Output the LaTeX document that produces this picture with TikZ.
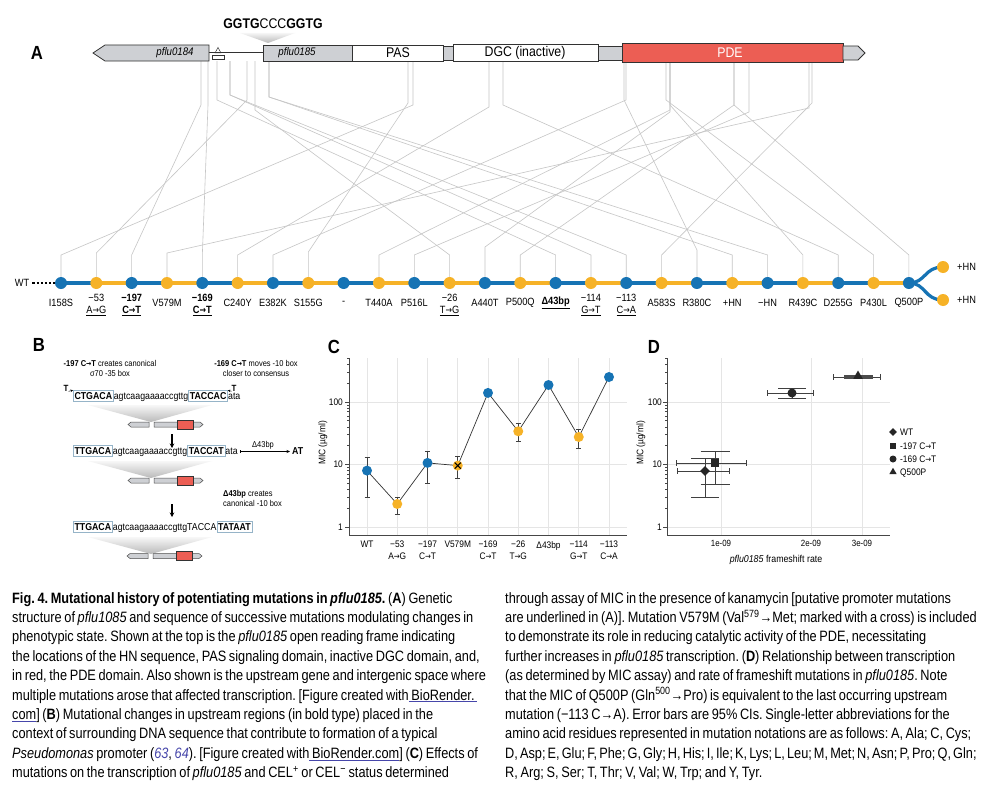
\documentclass[tikz,border=0pt]{standalone}
\usepackage{fontspec}
\setmainfont{Liberation Sans}[FakeStretch=0.88]
\newfontfamily\capfont{Liberation Sans}[FakeStretch=0.85,WordSpace=0.75]
\newfontfamily\arrowfont{DejaVu Sans}[FakeStretch=0.8,Scale=0.92]
\usetikzlibrary{shapes.geometric,arrows.meta,backgrounds}
\definecolor{mblue}{RGB}{22,115,180}
\definecolor{morange}{RGB}{246,178,39}
\definecolor{pdered}{RGB}{236,94,84}
\definecolor{genegray}{RGB}{206,208,212}
\definecolor{edgec}{RGB}{50,50,50}
\definecolor{linkc}{RGB}{70,70,170}
\definecolor{boxc}{RGB}{150,180,200}
\newcommand\fs[2]{\fontsize{#1}{#2}\selectfont}
\newcommand\lnk[1]{{\color{linkc}\underline{\color{black}#1}}}
\newcommand\rf[1]{{\color{linkc}\textit{#1}}}
\newcommand\ra{{\arrowfont →}}
\newcommand\tightsp{\spaceskip=2.1pt plus 0.5pt\relax}
\tikzset{
  panel/.style={font=\fs{19}{20}\bfseries, inner sep=0},
  genebox/.style={fill=genegray, draw=edgec, line width=0.8},
  whitebox/.style={fill=white, draw=edgec, line width=0.8},
  conn/.style={draw=gray!45, line width=0.6},
  seg/.style={line width=3.2},
  dot/.style={circle, minimum size=12, inner sep=0},
  lab/.style={font=\fs{10.5}{12}, align=center, inner sep=0},
  seq/.style={font=\fs{10}{12}, inner sep=0, anchor=base west},
  sbox/.style={seq, draw=boxc, line width=0.6, inner xsep=1.2, inner ysep=2},
  note/.style={font=\fs{8.5}{10}, align=center, inner sep=0},
  grid/.style={draw=gray!20, line width=0.6},
  axis/.style={draw=gray!55!black, line width=1},
  ebar/.style={draw=black!75, line width=0.9},
  cdot/.style={circle, minimum size=10, inner sep=0},
  tick/.style={font=\fs{9.5}{11}, inner sep=0},
  capline/.style={anchor=base west, inner sep=0, font=\capfont\fs{15}{18}\frenchspacing},
  dnarrow/.style={-{Stealth[length=4.5,width=4.5]}, line width=1.4},
}
\newcommand\geneicon[2]{%
  \begin{scope}[shift={(#1,#2)}]
    \filldraw[fill=genegray, draw=gray!60!black, line width=0.5] (-23,0) -- (-20,-2.5) -- (-2,-2.5) -- (-2,2.5) -- (-20,2.5) -- cycle;
    \filldraw[fill=genegray, draw=gray!60!black, line width=0.5] (3,-2.5) -- (49,-2.5) -- (52,0) -- (49,2.5) -- (3,2.5) -- cycle;
    \filldraw[fill=pdered, draw=gray!40!black, line width=0.5] (26,-4.5) rectangle (42,4.5);
  \end{scope}}
\begin{document}
\begin{tikzpicture}[x=1pt,y=-1pt]
\useasboundingbox (0,0) rectangle (1000,800);
\begin{pgfonlayer}{background}
\fill[white] (0,0) rectangle (1000,800);
\end{pgfonlayer}

%================ PANEL A =================
\node[panel] (labA) at (37,53) {A};
\node[inner sep=0] (hn) at (273,24) {\fs{14}{16}\textbf{GGTG}CCC\textbf{GGTG}};
\shade[top color=gray!8, bottom color=gray!55] (240,33) -- (295,33) -- (268,43) -- cycle;

% mutation dots
\foreach \i in {0,...,24}{
  \pgfmathsetmacro\xx{61+35.33*\i}
  \ifodd\i \def\cc{morange}\else \def\cc{mblue}\fi
  \node[dot, fill=\cc] (d\i) at (\xx,283) {};
}
\node[dot, fill=morange] (d25) at (943,267) {};
\node[dot, fill=morange] (d26) at (943,300) {};

\begin{pgfonlayer}{background}
\foreach \i/\g/\t/\b in {0/413/105/255, 1/247/100/253, 2/201/105/255, 3/809/108/253,
  4/208/105/255, 5/489/107/255, 6/626/100/255, 7/408/103/252, 9/670/110/255,
  10/749/112/255, 11/255/110/255, 12/670/112/247, 13/734/105/255, 14/217/100/255,
  15/230/95/255, 16/230/95/255, 17/812/103/255, 18/624/100/250, 19/269/97/255,
  20/269/97/255, 21/670/105/255, 22/503/105/255, 23/666/100/255, 24/734/105/255}{
  \coordinate (gp\i) at (\g,61);
  \draw[conn] (d\i.center) -- (d\i.center |- 0,\b) -- (gp\i |- 0,\t) -- (gp\i);
}
\foreach \i [evaluate=\i as \j using int(\i+1)] in {0,...,23}{
  \ifodd\i \def\cc{morange}\else \def\cc{mblue}\fi
  \draw[seg, draw=\cc] (d\i.center) -- (d\j.center);
}
\draw[seg, draw=mblue] (d24.center) .. controls (926,283) and (924,267) .. (d25.center);
\draw[seg, draw=mblue] (d24.center) .. controls (926,283) and (924,300) .. (d26.center);
\end{pgfonlayer}

% gene bar
\filldraw[genebox] (93,53) -- (105,45) -- (209,45) -- (209,61) -- (105,61) -- cycle;
\node[inner sep=0] (g184) at (175,53) {\fs{11}{13}\itshape pflu0184};
\draw[edgec, line width=1] (209,53) -- (263,53);
\draw[edgec, fill=white, line width=0.6] (212,55) rectangle (224,59);
\draw[edgec, line width=0.5] (215,53) -- (221,53) -- (218,47.5) -- cycle;
\filldraw[genebox] (263,45) rectangle (352,61);
\node[inner sep=0] (g185) at (297,53) {\fs{11}{13}\itshape pflu0185};
\filldraw[whitebox] (352,45) rectangle (443,61);
\node[inner sep=0] (pas) at (398,53) {\fs{14}{16}PAS};
\filldraw[genebox] (443,46) rectangle (453,60);
\filldraw[whitebox] (453,44) rectangle (598,61);
\node[inner sep=0] (dgc) at (525,52.5) {\fs{14}{16}DGC (inactive)};
\filldraw[genebox] (598,46) rectangle (622,60);
\filldraw[fill=pdered, draw=edgec, line width=0.8] (622,43) rectangle (843,62);
\node[inner sep=0, text=white] (pde) at (730,53) {\fs{14}{16}PDE};
\filldraw[genebox] (843,46) -- (858,46) -- (865,53) -- (858,60) -- (843,60) -- cycle;

% WT start
\node[inner sep=0] (wt) at (22,283) {\fs{10.5}{12}WT};
\draw[black, line width=2.4, dash pattern=on 2.2pt off 2pt] (wt.east) ++(3,0) -- (d0.west);

% mutation labels
\newcommand\mlab[2]{\node[lab] (l#1) at ([yshift=-20pt]d#1.center) {#2};}
\newcommand\mlabb[3]{\node[lab] (l#1) at ([yshift=-22pt]d#1.center) {#2\\#3};}
\mlab{0}{I158S}
\mlabb{1}{−53}{\underline{A\ra G}}
\mlabb{2}{\textbf{−197}}{\underline{\textbf{C\ra T}}}
\mlab{3}{V579M}
\mlabb{4}{\textbf{−169}}{\underline{\textbf{C\ra T}}}
\mlab{5}{C240Y}
\mlab{6}{E382K}
\mlab{7}{S155G}
\mlab{8}{-}
\mlab{9}{T440A}
\mlab{10}{P516L}
\mlabb{11}{−26}{\underline{T\ra G}}
\mlab{12}{A440T}
\mlab{13}{P500Q}
\mlab{14}{\underline{\textbf{Δ43bp}}}
\mlabb{15}{−114}{\underline{G\ra T}}
\mlabb{16}{−113}{\underline{C\ra A}}
\mlab{17}{A583S}
\mlab{18}{R380C}
\mlab{19}{+HN}
\mlab{20}{−HN}
\mlab{21}{R439C}
\mlab{22}{D255G}
\mlab{23}{P430L}
\mlab{24}{Q500P}
\node[lab, anchor=west] (l25) at (957,267) {+HN};
\node[lab, anchor=west] (l26) at (957,300) {+HN};

%================ PANEL B =================
\node[panel] (labB) at (39,345) {B};
\node[note] (n197) at (110,368) {\textbf{-197 C\ra T} creates canonical\\σ70 -35 box};
\node[note] (n169) at (256,368) {\textbf{-169 C\ra T} moves -10 box\\closer to consensus};
% sequence 1
\node[sbox] (s1a) at (73,399.5) {\textbf{CTGACA}};
\node[seq] (s1b) at (s1a.base east) {agtcaagaaaaccgttg};
\node[sbox] (s1c) at (s1b.base east) {\textbf{TACCAC}};
\node[seq] (s1d) at (s1c.base east) {ata};
\node[font=\fs{9}{10}\bfseries, inner sep=0] (t1) at (66,388) {T};
\node[font=\fs{9}{10}\bfseries, inner sep=0] (t2) at (234,388) {T};
\draw[-{Stealth[length=2.5,width=2.5]}, line width=0.5] (t1.south east) -- (s1a.north west);
\draw[-{Stealth[length=2.5,width=2.5]}, line width=0.5] (t2.south west) -- (s1c.north east);
\shade[top color=gray!6, bottom color=gray!55] (88,405) -- (212,405) -- (151,422) -- cycle;
\geneicon{151}{424.5}
\coordinate (a1s) at (172,434);
\coordinate (a1e) at (172,448);
\draw[dnarrow] (a1s) -- (a1e);
% sequence 2
\node[sbox] (s2a) at (73,454.5) {\textbf{TTGACA}};
\node[seq] (s2b) at (s2a.base east) {agtcaagaaaaccgttg};
\node[sbox] (s2c) at (s2b.base east) {\textbf{TACCAT}};
\node[seq] (s2d) at (s2c.base east) {ata};
\node[seq, font=\fs{10}{12}\bfseries] (s2e) at (292,454.5) {AT};
\draw[{Bar[width=3]}-{Stealth[length=3.5,width=3]}, line width=0.5] ([xshift=2pt,yshift=3pt]s2d.base east) -- ([xshift=-2pt,yshift=3pt]s2e.base west);
\node[note] (n43) at (263,445) {Δ43bp};
\shade[top color=gray!6, bottom color=gray!55] (88,461) -- (212,461) -- (151,478) -- cycle;
\geneicon{151}{480.5}
\node[note, align=left, anchor=west] (n43b) at (223,498) {\textbf{Δ43bp} creates\\canonical -10 box};
\coordinate (a2s) at (172,504);
\coordinate (a2e) at (172,517);
\draw[dnarrow] (a2s) -- (a2e);
% sequence 3
\node[sbox] (s3a) at (73,530.5) {\textbf{TTGACA}};
\node[seq] (s3b) at (s3a.base east) {agtcaagaaaaccgttgTACCA};
\node[sbox] (s3c) at (s3b.base east) {\textbf{TATAAT}};
\shade[top color=gray!6, bottom color=gray!55] (88,537) -- (212,537) -- (151,554) -- cycle;
\geneicon{150}{556}

%================ PANEL C =================
\node[panel] (labC) at (334,347) {C};
\begin{pgfonlayer}{background}
\foreach \y in {402,464,527} \draw[grid] (349,\y) -- (627,\y);
\foreach \k in {0,...,8} \draw[grid] ({367+30.25*\k},358) -- ({367+30.25*\k},535);
\end{pgfonlayer}
\draw[axis] (349,358) -- (349,535) -- (627,535);
\foreach \y in {402,464,527} \draw[axis] (345,\y) -- (349,\y);
\foreach \b in {527,464.5} \foreach \m in {2,...,9} {
  \pgfmathsetmacro\yy{\b-62.5*log10(\m)}
  \draw[axis, line width=0.7] (347,\yy) -- (349,\yy);}
\foreach \m in {2,3,4,5} {\pgfmathsetmacro\yy{402-62.5*log10(\m)} \draw[axis, line width=0.7] (347,\yy) -- (349,\yy);}
\node[tick, anchor=east] (cy100) at (343,402) {100};
\node[tick, anchor=east] (cy10) at (343,464) {10};
\node[tick, anchor=east] (cy1) at (343,527) {1};
\node[tick, rotate=90] (cyl) at (323,443) {MIC (µg/ml)};
% points
\foreach \k/\v/\c in {0/470.6/mblue, 1/504/morange, 2/462.9/mblue, 3/465.6/morange, 4/392.9/mblue,
   5/431.3/morange, 6/385/mblue, 7/437/morange, 8/377/mblue}{
  \node[cdot, fill=\c] (pc\k) at ({367+30.25*\k},\v) {};
}
\draw[black, line width=1.1] ([xshift=-3pt,yshift=3pt]pc3.center) -- ([xshift=3pt,yshift=-3pt]pc3.center)
  ([xshift=-3pt,yshift=-3pt]pc3.center) -- ([xshift=3pt,yshift=3pt]pc3.center);
\begin{pgfonlayer}{background}
\draw[black!80, line width=0.7] (pc0.center) -- (pc1.center) -- (pc2.center) -- (pc3.center) -- (pc4.center)
  -- (pc5.center) -- (pc6.center) -- (pc7.center) -- (pc8.center);
\foreach \k/\lo/\hi in {0/457.4/497.2, 1/497.2/514.2, 2/451.7/483.3, 3/456.4/478.4, 5/423.1/441.9, 7/429/448.5}{
  \coordinate (eh\k) at ({367+30.25*\k},\lo);
  \coordinate (el\k) at ({367+30.25*\k},\hi);
  \draw[ebar] (eh\k) -- (el\k);
  \draw[ebar] ([xshift=-2.5pt]eh\k) -- ([xshift=2.5pt]eh\k);
  \draw[ebar] ([xshift=-2.5pt]el\k) -- ([xshift=2.5pt]el\k);
}
\end{pgfonlayer}
\foreach \k/\t in {0/WT, 1/−53\\A\ra G, 2/−197\\C\ra T, 3/V579M, 4/−169\\C\ra T, 5/−26\\T\ra G, 6/Δ43bp, 7/−114\\G\ra T, 8/−113\\C\ra A}{
  \node[tick, align=center, anchor=north, font=\fs{9.5}{11.5}] (cx\k) at ({367+30.25*\k},541) {\t};
}

%================ PANEL D =================
\node[panel] (labD) at (654,347) {D};
\begin{pgfonlayer}{background}
\foreach \y in {402,464,527} \draw[grid] (667,\y) -- (890,\y);
\foreach \x in {721,811,862} \draw[grid] (\x,358) -- (\x,535);
\end{pgfonlayer}
\draw[axis] (667,358) -- (667,535) -- (890,535);
\foreach \y in {402,464,527} \draw[axis] (663,\y) -- (667,\y);
\foreach \b in {527,464.5} \foreach \m in {2,...,9} {
  \pgfmathsetmacro\yy{\b-62.5*log10(\m)}
  \draw[axis, line width=0.7] (665,\yy) -- (667,\yy);}
\foreach \m in {2,3,4,5} {\pgfmathsetmacro\yy{402-62.5*log10(\m)} \draw[axis, line width=0.7] (665,\yy) -- (667,\yy);}
\node[tick, anchor=east] (dy100) at (662,402) {100};
\node[tick, anchor=east] (dy10) at (662,464) {10};
\node[tick, anchor=east] (dy1) at (662,527) {1};
\node[tick, rotate=90] (dyl) at (641,443) {MIC (µg/ml)};
\node[tick, font=\fs{9}{11}] (dx1) at (721,543) {1e-09};
\node[tick, font=\fs{9}{11}] (dx2) at (811,543) {2e-09};
\node[tick, font=\fs{9}{11}] (dx3) at (862,543) {3e-09};
\node[tick, font=\fs{10}{12}] (dxl) at (776,560) {\textit{pflu0185} frameshift rate};
% error bars
\begin{pgfonlayer}{background}
\foreach \n/\x/\y/\xl/\xh/\yl/\yh/\w in {wt/705/471/677/729/458/497/14, a/715/463/676/746/451/484/14.5, b/792/393/767/813/388/398/14}{
  \coordinate (dc\n) at (\x,\y);
  \draw[ebar] (\xl,\y) -- (\xh,\y);
  \draw[ebar] (\xl,\y-3) -- (\xl,\y+3);
  \draw[ebar] (\xh,\y-3) -- (\xh,\y+3);
  \draw[ebar] (\x,\yl) -- (\x,\yh);
  \draw[ebar] (\x-\w,\yl) -- (\x+\w,\yl);
  \draw[ebar] (\x-\w,\yh) -- (\x+\w,\yh);
}
\draw[ebar] (833,377) -- (880,377);
\draw[ebar] (833,374) -- (833,380);
\draw[ebar] (880,374) -- (880,380);
\draw[draw=black!70, line width=3.2] (844,377) -- (873,377);
\end{pgfonlayer}
\node[diamond, fill=black!85, minimum size=10, inner sep=0] (pdwt) at (705,471) {};
\node[rectangle, fill=black!85, minimum size=8, inner sep=0] (pd197) at (715,463) {};
\node[circle, fill=black!85, minimum size=9, inner sep=0] (pd169) at (792,393) {};
\node[regular polygon, regular polygon sides=3, fill=black!85, minimum size=11, inner sep=0] (pdq) at (858,376) {};
% legend
\node[diamond, fill=black!85, minimum size=8, inner sep=0] (lg1) at (893,432) {};
\node[rectangle, fill=black!85, minimum size=6.5, inner sep=0] (lg2) at (893,446) {};
\node[circle, fill=black!85, minimum size=7, inner sep=0] (lg3) at (893,459) {};
\node[regular polygon, regular polygon sides=3, fill=black!85, minimum size=8.5, inner sep=0] (lg4) at (893,472) {};
\node[tick, anchor=west] (lt1) at (900,432) {WT};
\node[tick, anchor=west] (lt2) at (900,446) {-197 C\ra T};
\node[tick, anchor=west] (lt3) at (900,459) {-169 C\ra T};
\node[tick, anchor=west] (lt4) at (900,473) {Q500P};

%================ CAPTION =================
\node[capline] (cl1) at (12,603) {\textbf{Fig. 4. Mutational history of potentiating mutations in \textit{pflu0185}.} (\textbf{A}) Genetic};
\node[capline] (cl2) at (12,622.4) {structure of \textit{pflu1085} and sequence of successive mutations modulating changes in};
\node[capline] (cl3) at (12,641.8) {phenotypic state. Shown at the top is the \textit{pflu0185} open reading frame indicating};
\node[capline] (cl4) at (12,661.2) {the locations of the HN sequence, PAS signaling domain, inactive DGC domain, and,};
\node[capline] (cl5) at (12,680.6) {in red, the PDE domain. Also shown is the upstream gene and intergenic space where};
\node[capline] (cl6) at (12,700) {multiple mutations arose that affected transcription. [Figure created with\lnk{\ BioRender.\ }};
\node[capline] (cl7) at (12,719.4) {\lnk{com}] (\textbf{B}) Mutational changes in upstream regions (in bold type) placed in the};
\node[capline] (cl8) at (12,738.8) {context of surrounding DNA sequence that contribute to formation of a typical};
\node[capline] (cl9) at (12,758.2) {\textit{Pseudomonas} promoter (\rf{63}, \rf{64}). [Figure created with\lnk{\ BioRender.com}] (\textbf{C}) Effects of};
\node[capline] (cl10) at (12,777.6) {mutations on the transcription of \textit{pflu0185} and CEL\textsuperscript{+} or CEL\textsuperscript{−} status determined};

\node[capline] (cr1) at (505,603) {through assay of MIC in the presence of kanamycin [putative promoter mutations};
\node[capline] (cr2) at (505,622.4) {are underlined in (A)]. Mutation V579M (Val\textsuperscript{579}→Met; marked with a cross) is included};
\node[capline] (cr3) at (505,641.8) {to demonstrate its role in reducing catalytic activity of the PDE, necessitating};
\node[capline] (cr4) at (505,661.2) {further increases in \textit{pflu0185} transcription. (\textbf{D}) Relationship between transcription};
\node[capline] (cr5) at (505,680.6) {(as determined by MIC assay) and rate of frameshift mutations in \textit{pflu0185}. Note};
\node[capline] (cr6) at (505,700) {that the MIC of Q500P (Gln\textsuperscript{500}→Pro) is equivalent to the last occurring upstream};
\node[capline] (cr7) at (505,719.4) {mutation (−113 C→A). Error bars are 95\% CIs. Single-letter abbreviations for the};
\node[capline] (cr8) at (505,738.8) {amino acid residues represented in mutation notations are as follows: A, Ala; C, Cys;};
\node[capline] (cr9) at (505,758.2) {\tightsp D, Asp; E, Glu; F, Phe; G, Gly; H, His; I, Ile; K, Lys; L, Leu; M, Met; N, Asn; P, Pro; Q, Gln;};
\node[capline] (cr10) at (505,777.6) {R, Arg; S, Ser; T, Thr; V, Val; W, Trp; and Y, Tyr.};
\end{tikzpicture}
\end{document}
